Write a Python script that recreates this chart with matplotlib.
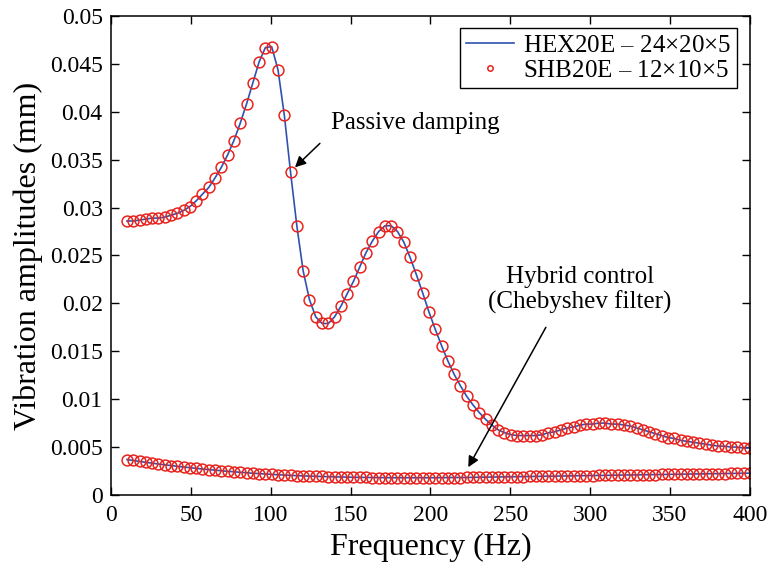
import numpy as np
import matplotlib
matplotlib.use('Agg')
import matplotlib.pyplot as plt
from matplotlib.ticker import FuncFormatter

plt.rcParams['font.family'] = ['Liberation Serif', 'DejaVu Serif']
plt.rcParams['mathtext.fontset'] = 'stix'

# frequency grid of the computed points (10 Hz to 400 Hz, 100 points)
freq = np.linspace(10, 400, 100)

# passive damping amplitudes (mm)
passive = [
    0.0286, 0.0286, 0.0287, 0.0288, 0.0289, 0.0289, 0.0290, 0.0292, 0.0294, 0.0297,
    0.0301, 0.0307, 0.0314, 0.0321, 0.0331, 0.0342, 0.0355, 0.0370, 0.0388, 0.0408,
    0.0430, 0.0452, 0.0467, 0.0468, 0.0444, 0.0397, 0.0337, 0.0281, 0.0234, 0.0204,
    0.0186, 0.0179, 0.0179, 0.0186, 0.0197, 0.0210, 0.0223, 0.0238, 0.0253, 0.0265,
    0.0275, 0.0281, 0.0281, 0.0275, 0.0264, 0.0248, 0.0230, 0.0211, 0.0191, 0.0173,
    0.0156, 0.0140, 0.0126, 0.0114, 0.0103, 0.0094, 0.0086, 0.0079, 0.0073, 0.0068,
    0.0065, 0.0063, 0.0062, 0.0062, 0.0062, 0.0062, 0.0063, 0.0065, 0.0066, 0.0068,
    0.0070, 0.0071, 0.0073, 0.0074, 0.0074, 0.0075, 0.0075, 0.0074, 0.0074, 0.0073,
    0.0072, 0.0070, 0.0068, 0.0066, 0.0064, 0.0062, 0.0060, 0.0059, 0.0057, 0.0056,
    0.0055, 0.0054, 0.0053, 0.0052, 0.0051, 0.0051, 0.0050, 0.0050, 0.0049, 0.0049,
]

# hybrid control (Chebyshev filter) amplitudes (mm)
hybrid = [
    0.00370, 0.00360, 0.00350, 0.00341, 0.00332, 0.00323, 0.00315, 0.00307, 0.00299, 0.00292,
    0.00285, 0.00278, 0.00271, 0.00265, 0.00259, 0.00253, 0.00247, 0.00242, 0.00237, 0.00232,
    0.00227, 0.00223, 0.00219, 0.00215, 0.00211, 0.00208, 0.00205, 0.00202, 0.00199, 0.00197,
    0.00195, 0.00193, 0.00191, 0.00189, 0.00188, 0.00186, 0.00185, 0.00184, 0.00183, 0.00182,
    0.00181, 0.00181, 0.00180, 0.00180, 0.00180, 0.00180, 0.00180, 0.00180, 0.00180, 0.00180,
    0.00181, 0.00181, 0.00182, 0.00182, 0.00183, 0.00184, 0.00185, 0.00186, 0.00187, 0.00188,
    0.00189, 0.00190, 0.00191, 0.00192, 0.00193, 0.00194, 0.00195, 0.00196, 0.00197, 0.00198,
    0.00199, 0.00200, 0.00201, 0.00202, 0.00203, 0.00204, 0.00205, 0.00206, 0.00207, 0.00208,
    0.00209, 0.00210, 0.00211, 0.00212, 0.00213, 0.00214, 0.00215, 0.00216, 0.00217, 0.00218,
    0.00219, 0.00220, 0.00221, 0.00222, 0.00223, 0.00224, 0.00225, 0.00226, 0.00227, 0.00228,
]

line_color = '#2f52b0'
mark_color = '#e8231e'

fig = plt.figure(figsize=(7.73, 5.70), dpi=100)
ax = fig.add_axes([0.1436, 0.1316, 0.8264, 0.8404])

for i, y in enumerate([passive, hybrid]):
    ax.plot(freq, y, color=line_color, lw=1.2,
            label='HEX20E $\u2013$ 24\u00d720\u00d75' if i == 0 else None)
    ax.plot(freq, y, ls='none', marker='o', ms=7.8, mfc='none', mec=mark_color, mew=1.1,
            label='SHB20E $\u2013$ 12\u00d710\u00d75' if i == 0 else None)

ax.set_xlim(0, 400)
ax.set_ylim(0, 0.05)
ax.set_xticks(np.arange(0, 401, 50))
ax.set_yticks(np.arange(0, 0.0501, 0.005))
ax.yaxis.set_major_formatter(FuncFormatter(lambda v, p: '%g' % round(v, 4)))
ax.tick_params(direction='in', top=True, right=True, labelsize=17, length=6, width=1)
ax.tick_params(axis='x', pad=7)
ax.tick_params(axis='y', pad=6)
for s in ax.spines.values():
    s.set_linewidth(1.1)

ax.set_xlabel('Frequency (Hz)', fontsize=23, labelpad=5)
ax.set_ylabel('Vibration amplitudes (mm)', fontsize=23, labelpad=5)

leg = ax.legend(loc='upper right', fontsize=18, fancybox=False, edgecolor='black',
                framealpha=1, markerscale=0.5, borderaxespad=0.5, handlelength=1.9,
                borderpad=0.25, labelspacing=0.1, handletextpad=0.35)
leg.get_frame().set_linewidth(1.0)

ax.text(138, 0.0388, 'Passive damping', fontsize=18, ha='left', va='center')
ax.annotate('', xy=(115.2, 0.0342), xytext=(130.8, 0.0367),
            arrowprops=dict(arrowstyle='-|>', color='black', lw=1.1,
                            mutation_scale=16, shrinkA=0, shrinkB=0))
ax.text(293.6, 0.0214, 'Hybrid control\n(Chebyshev filter)', fontsize=18,
        ha='center', va='center', linespacing=1.1)
ax.annotate('', xy=(223.7, 0.0029), xytext=(272.3, 0.0175),
            arrowprops=dict(arrowstyle='-|>', color='black', lw=1.1,
                            mutation_scale=16, shrinkA=0, shrinkB=0))

fig.savefig('out.png', dpi=100)
